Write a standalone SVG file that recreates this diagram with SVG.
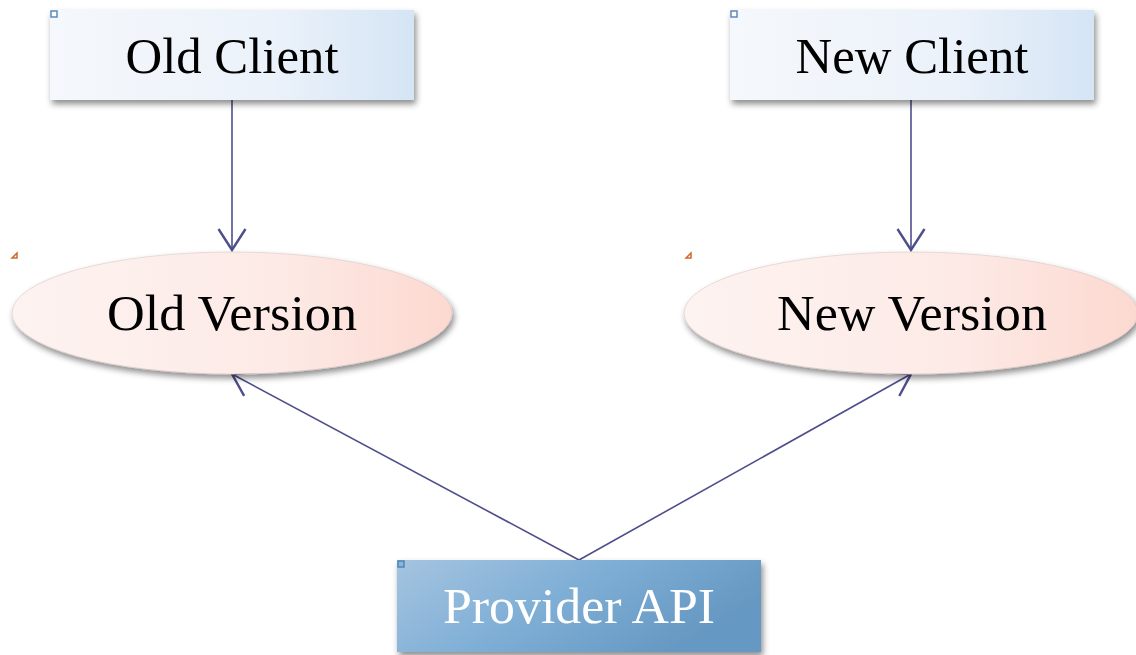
<svg xmlns="http://www.w3.org/2000/svg" width="1136" height="655" viewBox="0 0 1136 655">
<style>
.lbl{font-family:"Liberation Serif","Times New Roman",serif;font-size:50px;text-anchor:middle}
.dark{fill:#000}
.light{fill:#fff}
.conn{stroke:#4e4e8c;stroke-width:1.6;fill:none}
.handle{fill:#fff;stroke:#5a8bb9;stroke-width:1.5}
.tri{fill:#fff;stroke:#cf6a2c;stroke-width:1.5}
</style>
<defs>
<linearGradient id="gClient" x1="0" y1="0" x2="1" y2="0">
<stop offset="0" stop-color="#f5f8fc"/>
<stop offset="0.6" stop-color="#ecf2fa"/>
<stop offset="1" stop-color="#d5e5f5"/>
</linearGradient>
<linearGradient id="gVer" x1="0" y1="0" x2="1" y2="0">
<stop offset="0" stop-color="#fdf3f1"/>
<stop offset="0.6" stop-color="#fdeae6"/>
<stop offset="1" stop-color="#fcd9d0"/>
</linearGradient>
<linearGradient id="gProv" x1="0" y1="0" x2="1" y2="0.4">
<stop offset="0" stop-color="#a5c4e0"/>
<stop offset="0.5" stop-color="#80afd6"/>
<stop offset="1" stop-color="#6598c2"/>
</linearGradient>
<filter id="sh" x="-10%" y="-20%" width="125%" height="150%">
<feDropShadow dx="2" dy="4" stdDeviation="3" flood-color="#000" flood-opacity="0.45"/>
</filter>
<marker id="arr" markerUnits="userSpaceOnUse" markerWidth="30" markerHeight="30" viewBox="-16 -10 18 20" refX="0" refY="0" orient="auto">
<path d="M-14,-9 L0,0 L-14,9" fill="none" stroke="#4e4e8c" stroke-width="1.6"/>
</marker>
</defs>

<g id="connectors">
<line class="conn" x1="232" y1="100" x2="232" y2="250" marker-end="url(#arr)"/>
<line class="conn" x1="911" y1="100" x2="911" y2="250" marker-end="url(#arr)"/>
<line class="conn" x1="579" y1="560" x2="232" y2="374" marker-end="url(#arr)"/>
<line class="conn" x1="579" y1="560" x2="911" y2="374" marker-end="url(#arr)"/>
</g>

<g id="old-client">
<rect x="50" y="10" width="364" height="90" fill="url(#gClient)" filter="url(#sh)"/>
<rect class="handle" x="51" y="11" width="6" height="6"/>
<text class="lbl dark" x="232" y="73" textLength="213" lengthAdjust="spacingAndGlyphs">Old Client</text>
</g>

<g id="new-client">
<rect x="730" y="10" width="364" height="90" fill="url(#gClient)" filter="url(#sh)"/>
<rect class="handle" x="731" y="11" width="6" height="6"/>
<text class="lbl dark" x="912" y="73" textLength="233" lengthAdjust="spacingAndGlyphs">New Client</text>
</g>

<g id="old-version">
<ellipse cx="232" cy="313" rx="220" ry="61" fill="url(#gVer)" stroke="#d9c7c3" stroke-width="0.6" filter="url(#sh)"/>
<path class="tri" d="M12,258 L17,253 L17,258 Z"/>
<text class="lbl dark" x="232" y="330" textLength="250" lengthAdjust="spacingAndGlyphs">Old Version</text>
</g>

<g id="new-version">
<ellipse cx="911" cy="313" rx="227" ry="61" fill="url(#gVer)" stroke="#d9c7c3" stroke-width="0.6" filter="url(#sh)"/>
<path class="tri" d="M686,258 L691,253 L691,258 Z"/>
<text class="lbl dark" x="912" y="330" textLength="270" lengthAdjust="spacingAndGlyphs">New Version</text>
</g>

<g id="provider-api">
<rect x="397" y="560" width="364" height="92" fill="url(#gProv)" filter="url(#sh)"/>
<rect x="398" y="561" width="6" height="6" fill="#8ab4d8" stroke="#4f86b5" stroke-width="1.5"/>
<text class="lbl light" x="579" y="623" textLength="272" lengthAdjust="spacingAndGlyphs">Provider API</text>
</g>
</svg>
